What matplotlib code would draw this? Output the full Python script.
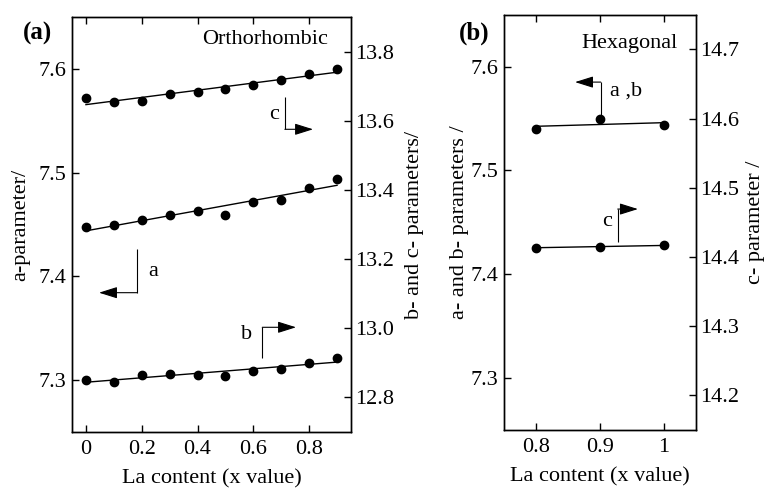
import numpy as np
import matplotlib
matplotlib.use("Agg")
import matplotlib.pyplot as plt
from matplotlib.ticker import FuncFormatter, FixedLocator

# ---------------- data ----------------
# Panel (a): orthorhombic
x_orth = [0.0, 0.1, 0.2, 0.3, 0.4, 0.5, 0.6, 0.7, 0.8, 0.9]
a_orth = [7.4474, 7.4497, 7.4548, 7.4587, 7.4628, 7.4590, 7.4721, 7.4740, 7.4856, 7.4942]
b_orth = [12.850, 12.846, 12.865, 12.868, 12.865, 12.862, 12.877, 12.883, 12.900, 12.914]
c_orth = [13.665, 13.655, 13.657, 13.677, 13.683, 13.692, 13.703, 13.717, 13.736, 13.750]

# Panel (b): hexagonal
x_hex = [0.8, 0.9, 1.0]
ab_hex = [7.5401, 7.5491, 7.5436]
c_hex = [14.4136, 14.4145, 14.4169]

xticks_a = [0, 0.2, 0.4, 0.6, 0.8]
yticks_a_left = [7.3, 7.4, 7.5, 7.6]
yticks_a_right = [12.8, 13.0, 13.2, 13.4, 13.6, 13.8]
xticks_b = [0.8, 0.9, 1.0]
yticks_b_left = [7.3, 7.4, 7.5, 7.6]
yticks_b_right = [14.2, 14.3, 14.4, 14.5, 14.6, 14.7]

# ---------------- style ----------------
FS = 16
plt.rcParams['font.family'] = ['Liberation Serif', 'DejaVu Serif']
plt.rcParams['font.size'] = FS
plt.rcParams['axes.linewidth'] = 1.0

fig = plt.figure(figsize=(7.67, 4.90), dpi=100)

W, H = 767.0, 490.0
def axrect(x0, x1, ytop, ybot):
    return [x0 / W, 1 - ybot / H, (x1 - x0) / W, (ybot - ytop) / H]

fmt_g = FuncFormatter(lambda v, p: '%g' % v)
fmt_1 = FuncFormatter(lambda v, p: '%.1f' % v)

def style_axes(ax, ax2):
    ax.tick_params(axis='both', direction='in', length=5, width=1.0,
                   top=True, right=False, labelsize=FS)
    ax.tick_params(axis='x', pad=6)
    ax.tick_params(axis='y', pad=4)
    ax2.tick_params(axis='y', direction='in', length=5, width=1.0, labelsize=FS, pad=3)

def fitline(ax, x, y):
    p = np.polyfit(x, y, 1)
    xx = np.array([min(x), max(x)])
    ax.plot(xx, np.polyval(p, xx), color='black', lw=1.0, zorder=2)

def l_arrow(ax, xv, y_start, y_corner, x_end):
    ax.plot([xv, xv], [y_start, y_corner], color='black', lw=0.8,
            transform=ax.transAxes, zorder=5, solid_capstyle='butt')
    ax.annotate('', xy=(x_end, y_corner), xytext=(xv, y_corner),
                xycoords='axes fraction', textcoords='axes fraction',
                arrowprops=dict(arrowstyle='-|>,head_length=0.7,head_width=0.22',
                                color='black', lw=0.8, shrinkA=0, shrinkB=0),
                zorder=5)

ms = 6

# ---------------- panel (a) ----------------
ax = fig.add_axes(axrect(72, 351, 17, 432))
ax2 = ax.twinx()
ax.set_xlim(-0.05, 0.95)
ax.set_ylim(7.25, 7.65)
ax2.set_ylim(12.7, 13.9)
ax.xaxis.set_major_locator(FixedLocator(xticks_a))
ax.xaxis.set_major_formatter(fmt_g)
ax.yaxis.set_major_locator(FixedLocator(yticks_a_left))
ax.yaxis.set_major_formatter(fmt_1)
ax2.yaxis.set_major_locator(FixedLocator(yticks_a_right))
ax2.yaxis.set_major_formatter(fmt_1)
style_axes(ax, ax2)

fitline(ax, x_orth, a_orth)
ax.plot(x_orth, a_orth, 'o', color='black', ms=ms, zorder=3)
fitline(ax2, x_orth, b_orth)
ax2.plot(x_orth, b_orth, 'o', color='black', ms=ms, zorder=3)
fitline(ax2, x_orth, c_orth)
ax2.plot(x_orth, c_orth, 'o', color='black', ms=ms, zorder=3)

ax.set_xlabel('La content (x value)', fontsize=FS, labelpad=7)
ax.set_ylabel('a-parameter/', fontsize=FS, labelpad=6)
ax2.set_ylabel('b- and c- parameters/', fontsize=FS, labelpad=8)

ax.text(0.918, 0.9446, 'Orthorhombic', transform=ax.transAxes,
        ha='right', va='center', fontsize=FS)
fig.text(37 / W, 1 - 33 / H, '(a)', ha='center', va='center',
         fontsize=18, fontweight='bold')

l_arrow(ax2, 0.763, 0.8065, 0.7294, 0.864)
ax2.text(0.724, 0.764, 'c', transform=ax2.transAxes, ha='center', va='center', fontsize=FS)
l_arrow(ax2, 0.233, 0.440, 0.3357, 0.0968)
ax2.text(0.290, 0.386, 'a', transform=ax2.transAxes, ha='center', va='center', fontsize=FS)
l_arrow(ax2, 0.682, 0.1776, 0.2523, 0.803)
ax2.text(0.626, 0.236, 'b', transform=ax2.transAxes, ha='center', va='center', fontsize=FS)

# ---------------- panel (b) ----------------
bx = fig.add_axes(axrect(504.3, 696, 14.7, 430))
bx2 = bx.twinx()
bx.set_xlim(0.75, 1.05)
bx.set_ylim(7.25, 7.65)
bx2.set_ylim(14.15, 14.75)
bx.xaxis.set_major_locator(FixedLocator(xticks_b))
bx.xaxis.set_major_formatter(fmt_g)
bx.yaxis.set_major_locator(FixedLocator(yticks_b_left))
bx.yaxis.set_major_formatter(fmt_1)
bx2.yaxis.set_major_locator(FixedLocator(yticks_b_right))
bx2.yaxis.set_major_formatter(fmt_1)
style_axes(bx, bx2)

fitline(bx, x_hex, ab_hex)
bx.plot(x_hex, ab_hex, 'o', color='black', ms=ms, zorder=3)
fitline(bx2, x_hex, c_hex)
bx2.plot(x_hex, c_hex, 'o', color='black', ms=ms, zorder=3)

bx.set_xlabel('La content (x value)', fontsize=FS, labelpad=7)
bx.set_ylabel('a- and b- parameters /', fontsize=FS, labelpad=1)
bx2.set_ylabel('c- parameter /', fontsize=FS, labelpad=5)

bx.text(0.9045, 0.931, 'Hexagonal', transform=bx.transAxes,
        ha='right', va='center', fontsize=FS)
fig.text(474.5 / W, 1 - 33 / H, '(b)', ha='center', va='center',
         fontsize=18, fontweight='bold')

l_arrow(bx2, 0.503, 0.7527, 0.8377, 0.369)
bx2.text(0.551, 0.817, 'a ,b', transform=bx2.transAxes, ha='left', va='center', fontsize=FS)
l_arrow(bx2, 0.5916, 0.4534, 0.532, 0.697)
bx2.text(0.534, 0.5015, 'c', transform=bx2.transAxes, ha='center', va='center', fontsize=FS)

fig.savefig('out.png', dpi=100)
